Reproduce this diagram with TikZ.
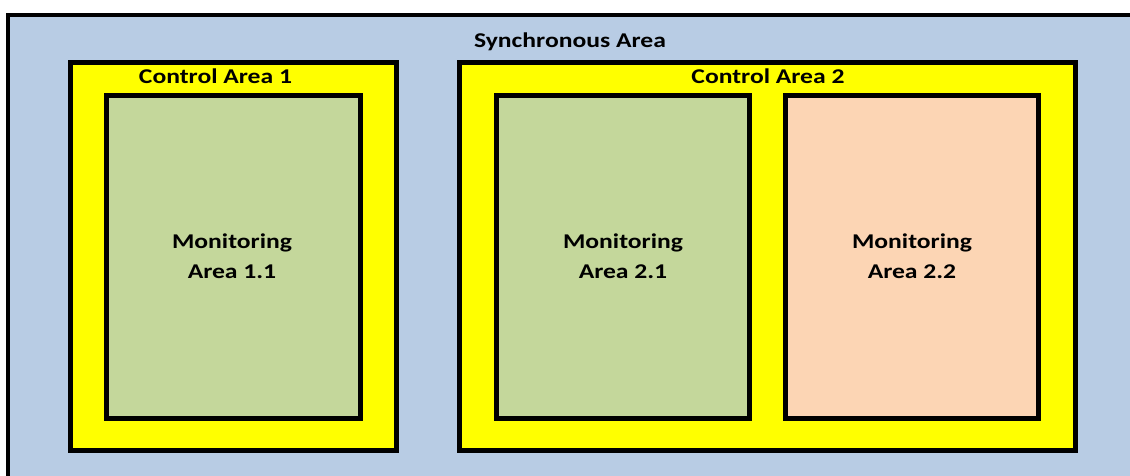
\documentclass[tikz,border=0pt]{standalone}
\usepackage{fontspec}
\setmainfont{Carlito}
\newfontfamily\labelfont[FakeStretch=1.22]{Carlito}
\definecolor{syncblue}{HTML}{B8CCE4}
\definecolor{ctrlyellow}{HTML}{FFFF00}
\definecolor{monGreen}{HTML}{C4D79B}
\definecolor{monPeach}{HTML}{FCD5B4}
\begin{document}
\begin{tikzpicture}[x=1pt,y=-1pt,
  areabox/.style={draw=black,line width=5pt},
  lbl/.style={font=\labelfont\fontsize{21}{30}\selectfont\bfseries,anchor=base,inner sep=0pt,align=center}]
\useasboundingbox (0,0) rectangle (1130,475);
\clip (0,0) rectangle (1130,475);
% synchronous area (extends past the right and bottom edges)
\draw[fill=syncblue,draw=black,line width=4pt] (8,15) rectangle (1160,500);
% control areas
\draw[areabox,fill=ctrlyellow] (70.5,62.5) rectangle (396.5,450.5);
\draw[areabox,fill=ctrlyellow] (459.5,62.5) rectangle (1075.5,450.5);
% monitoring areas
\draw[areabox,fill=monGreen] (106.5,95.5) rectangle (360.5,418.5);
\draw[areabox,fill=monGreen] (496.5,95.5) rectangle (749.2,418.5);
\draw[areabox,fill=monPeach] (785.5,95.5) rectangle (1038.5,418.5);
% labels
\node[lbl] (sync) at (570,47) {Synchronous Area};
\node[lbl] (ca1) at (215.5,83) {Control Area 1};
\node[lbl] (ca2) at (768,83) {Control Area 2};
\node[lbl] (m11) at (232,278) {Monitoring\\Area 1.1};
\node[lbl] (m21) at (623,278) {Monitoring\\Area 2.1};
\node[lbl] (m22) at (912,278) {Monitoring\\Area 2.2};
\end{tikzpicture}
\end{document}
